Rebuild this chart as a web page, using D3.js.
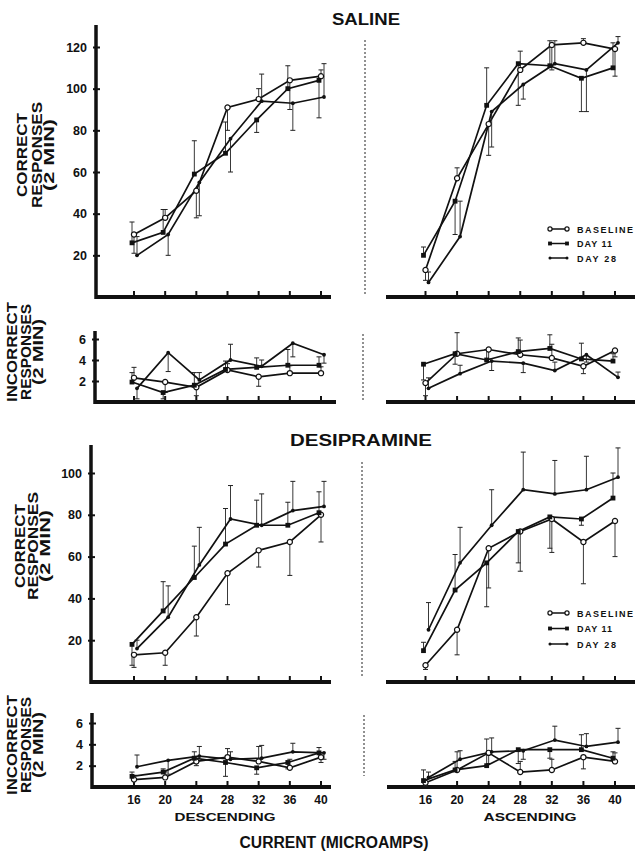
<!DOCTYPE html>
<html>
<head>
<meta charset="utf-8">
<script src="https://cdn.jsdelivr.net/npm/d3@7"></script>
<style>
  body { margin: 0; background: #fff; }
  text { font-family: "Liberation Sans", Arial, sans-serif; font-weight: bold; fill: #111; }
</style>
</head>
<body>
<div id="chart"></div>
<script>
// x values (current, microamps)
const currents = [16, 20, 24, 28, 32, 36, 40];

// SALINE - correct responses, descending
const salCorDescBase = [30, 38, 51, 91, 95, 104, 106];
const salCorDescBaseErr = [-9, 4, -13, -11, 5, -14, 3];
const salCorDescD11 = [26, 31, 59, 69, 85, 100, 104];
const salCorDescD11Err = [10, 11, 16, 15, -6, 11, -18];
const salCorDescD28 = [20, 30, 55, 76, 94, 93, 96];
const salCorDescD28Err = [9, -10, -16, -16, 13, -13, 16];

// SALINE - correct responses, ascending
const salCorAscBase = [13, 57, 83, 109, 121, 122, 119];
const salCorAscBaseErr = [-5, 5, -15, 9, -12, 2, -13];
const salCorAscD11 = [20, 46, 92, 112, 111, 105, 110];
const salCorAscD11Err = [4, -16, 18, -20, 12, -16, 12];
const salCorAscD28 = [7, 29, 89, 102, 112, 109, 122];
const salCorAscD28Err = [5, 17, -17, -7, 11, -20, 3];

// SALINE - incorrect responses
const salIncDescBase = [2.3, 1.9, 1.4, 3.05, 2.4, 2.75, 2.75];
const salIncDescBaseErr = [1.0, -1.0, -0.8, 0.6, -0.9, 0.7, 0.6];
const salIncDescD11 = [1.9, 0.9, 1.6, 3.1, 3.3, 3.5, 3.5];
const salIncDescD11Err = [0.9, -0.6, 1.2, 0.8, 0.9, 1.5, 0.8];
const salIncDescD28 = [1.3, 4.7, 2.1, 4.0, 3.4, 5.6, 4.5];
const salIncDescD28Err = [-1.0, -1.8, 0.7, 1.5, 0.6, -1.3, -0.8];

const salIncAscBase = [1.8, 4.6, 5.0, 4.5, 4.2, 3.4, 4.9];
const salIncAscBaseErr = [-1.2, 2.0, -0.9, 1.4, 1.3, -0.7, -0.6];
const salIncAscD11 = [3.6, 4.6, 4.0, 4.8, 5.1, 4.1, 3.9];
const salIncAscD11Err = [-1.5, -1.0, 1.0, 1.3, 1.3, 1.5, 0.7];
const salIncAscD28 = [1.3, 2.7, 3.9, 3.7, 3.0, 4.5, 2.35];
const salIncAscD28Err = [1.0, 0.8, -0.9, -0.9, 0.8, -0.7, 0.5];

// DESIPRAMINE - correct responses
const desCorDescBase = [13, 14, 31, 52, 63, 67, 80];
const desCorDescBaseErr = [-6, -6, -9, -15, -8, -16, -13];
const desCorDescD11 = [18, 34, 50, 66, 75, 75, 81];
const desCorDescD11Err = [-10, 14, 15, 17, 12, 11, 10];
const desCorDescD28 = [16, 31, 56, 78, 75, 82, 84];
const desCorDescD28Err = [4, 15, 18, 16, 15, 14, 12];

const desCorAscBase = [8, 25, 64, 72, 78, 67, 77];
const desCorAscBaseErr = [-2, -12, -19, -19, -16, -20, -17];
const desCorAscD11 = [15, 44, 57, 72, 79, 78, 88];
const desCorAscD11Err = [4, 17, -21, -15, -15, -3, 12];
const desCorAscD28 = [25, 57, 75, 92, 90, 92, 98];
const desCorAscD28Err = [13, 17, 17, 18, 16, 16, 14];

// DESIPRAMINE - incorrect responses
const desIncDescBase = [0.7, 0.9, 2.4, 2.8, 2.4, 1.8, 2.8];
const desIncDescBaseErr = [0.4, 0.5, -0.4, 0.8, 1.4, 0.8, -0.5];
const desIncDescD11 = [1.0, 1.4, 2.7, 2.3, 1.8, 2.3, 3.2];
const desIncDescD11Err = [0.4, 0.3, 0.6, -1.3, -0.6, -0.6, 0.5];
const desIncDescD28 = [1.9, 2.5, 2.9, 2.6, 2.7, 3.3, 3.2];
const desIncDescD28Err = [1.1, -1.3, 0.9, 0.7, 1.2, 0.8, -0.6];

const desIncAscBase = [0.4, 1.6, 3.2, 1.4, 1.6, 2.8, 2.4];
const desIncAscBaseErr = [-0.3, 1.7, -1.0, 1.0, 1.0, -1.1, 0.8];
const desIncAscD11 = [0.6, 1.6, 2.0, 3.5, 3.5, 3.5, 2.7];
const desIncAscD11Err = [1.0, 0.8, 2.5, -1.3, -0.8, 1.4, 0.6];
const desIncAscD28 = [0.9, 2.6, 3.3, 3.4, 4.4, 3.8, 4.2];
const desIncAscD28Err = [0.5, 0.8, 1.3, -0.8, 1.3, 1.2, 1.3];

const legendLabels = ["BASELINE", "DAY 11", "DAY 28"];
const corTicksSaline = [20, 40, 60, 80, 100, 120];
const corTicksDes = [20, 40, 60, 80, 100];
const incTicks = [2, 4, 6];

// constants
const width = 635, height = 853;
const seriesKinds = ["base", "d11", "d28"];
const seriesDx = {base: 0, d11: -2, d28: 3};
const legendLen = [56, 35, 39];

const svg = d3.select("#chart")
  .append("svg")
  .attr("width", width)
  .attr("height", height);

// x scales shared by the left (descending) and right (ascending) columns
const xLeft = d3.scaleLinear().domain([16, 40]).range([134, 321]);
const xRight = d3.scaleLinear().domain([16, 40]).range([425.5, 615]);

function makeSeries(vals, errs, kind) {
  return currents.map((c, i) => ({c: c, v: vals[i], e: errs[i], kind: kind}));
}

function drawMarker(sel, kind, size) {
  const s = size || 1;
  if (kind === "base") {
    sel.append("circle").attr("r", 2.6 * s).attr("fill", "#fff")
      .attr("stroke", "#111").attr("stroke-width", 1.2);
  } else if (kind === "d11") {
    sel.append("rect").attr("x", -2.4 * s).attr("y", -2.4 * s)
      .attr("width", 4.8 * s).attr("height", 4.8 * s).attr("fill", "#111");
  } else {
    sel.append("circle").attr("r", 1.9 * s).attr("fill", "#111");
  }
}

function drawPanel(p) {
  const g = svg.append("g");
  const y0 = p.y(0);

  // thick x axis
  g.append("line")
    .attr("x1", p.x0).attr("x2", p.x1)
    .attr("y1", y0).attr("y2", y0)
    .attr("stroke", "#111").attr("stroke-width", 4);

  g.selectAll(".xtick")
    .data(currents)
    .join("line")
    .attr("x1", d => p.x(d)).attr("x2", d => p.x(d))
    .attr("y1", y0).attr("y2", y0 - 6)
    .attr("stroke", "#111").attr("stroke-width", 2);

  // y axis only on the left column
  if (p.yTicks) {
    g.append("line")
      .attr("x1", p.x0).attr("x2", p.x0)
      .attr("y1", p.yTop).attr("y2", y0 + 2)
      .attr("stroke", "#111").attr("stroke-width", 3.5);

    const ax = g.append("g")
      .attr("transform", `translate(${p.x0},0)`)
      .call(d3.axisLeft(p.y).tickValues(p.yTicks).tickFormat(d3.format("d"))
        .tickSize(4).tickPadding(5));
    ax.select(".domain").remove();
    ax.selectAll(".tick line").attr("x2", 4).attr("x1", -3)
      .attr("stroke", "#111").attr("stroke-width", 2);
    ax.selectAll(".tick text")
      .attr("font-family", "Liberation Sans, Arial, sans-serif")
      .attr("font-weight", "bold")
      .attr("font-size", 12.5)
      .attr("fill", "#111");
  }

  // dashed divider
  if (p.divider) {
    g.append("line")
      .attr("x1", p.divider[0]).attr("x2", p.divider[0])
      .attr("y1", p.divider[1]).attr("y2", p.divider[2])
      .attr("stroke", "#222").attr("stroke-width", 1)
      .attr("stroke-dasharray", "2,2");
  }

  const line = d3.line()
    .x(d => p.x(d.c) + seriesDx[d.kind])
    .y(d => p.y(d.v));

  p.series.forEach(s => {
    // error bars: one-sided with a cap
    const eb = g.append("g");
    eb.selectAll("line.bar")
      .data(s)
      .join("line")
      .attr("x1", d => p.x(d.c) + seriesDx[d.kind])
      .attr("x2", d => p.x(d.c) + seriesDx[d.kind])
      .attr("y1", d => p.y(d.v))
      .attr("y2", d => p.y(d.v + d.e))
      .attr("stroke", "#222").attr("stroke-width", 0.9);
    eb.selectAll("line.cap")
      .data(s)
      .join("line")
      .attr("x1", d => p.x(d.c) + seriesDx[d.kind] - 2.5)
      .attr("x2", d => p.x(d.c) + seriesDx[d.kind] + 2.5)
      .attr("y1", d => p.y(d.v + d.e))
      .attr("y2", d => p.y(d.v + d.e))
      .attr("stroke", "#222").attr("stroke-width", 1);

    g.append("path")
      .datum(s)
      .attr("d", line)
      .attr("fill", "none")
      .attr("stroke", "#111")
      .attr("stroke-width", 1.7);
  });

  p.series.forEach(s => {
    g.selectAll(null)
      .data(s)
      .join("g")
      .attr("transform", d => `translate(${p.x(d.c) + seriesDx[d.kind]},${p.y(d.v)})`)
      .each(function(d) { drawMarker(d3.select(this), d.kind); });
  });
}

function yTitle(lines, cy) {
  lines.forEach(l => {
    svg.append("text")
      .attr("transform", `translate(${l.x},${cy}) rotate(-90)`)
      .attr("text-anchor", "middle")
      .attr("font-size", 14)
      .attr("textLength", l.len)
      .attr("lengthAdjust", "spacingAndGlyphs")
      .text(l.t);
  });
}

function legend(x, y0, dy) {
  legendLabels.forEach((lab, i) => {
    const gy = y0 + i * dy;
    const kind = seriesKinds[i];
    svg.append("line")
      .attr("x1", x).attr("x2", x + 17)
      .attr("y1", gy).attr("y2", gy)
      .attr("stroke", "#111").attr("stroke-width", 1.5);
    [x, x + 17].forEach(mx => {
      const m = svg.append("g").attr("transform", `translate(${mx},${gy})`);
      drawMarker(m, kind, 0.8);
    });
    svg.append("text")
      .attr("x", x + 27).attr("y", gy + 3.5)
      .attr("font-size", 9)
      .attr("textLength", legendLen[i])
      .attr("lengthAdjust", "spacing")
      .text(lab);
  });
}

// y scales
const ySalCor = d3.scaleLinear().domain([0, 120]).range([297, 47]);
const ySalInc = d3.scaleLinear().domain([0, 6]).range([402, 339]);
const yDesCor = d3.scaleLinear().domain([0, 100]).range([682, 473]);
const yDesInc = d3.scaleLinear().domain([0, 6]).range([787, 723]);

const panels = [
  {x: xLeft, y: ySalCor, x0: 96, x1: 331, yTop: 25, yTicks: corTicksSaline,
   series: [makeSeries(salCorDescBase, salCorDescBaseErr, "base"),
            makeSeries(salCorDescD11, salCorDescD11Err, "d11"),
            makeSeries(salCorDescD28, salCorDescD28Err, "d28")]},
  {x: xRight, y: ySalCor, x0: 386, x1: 635, divider: [365, 40, 295],
   series: [makeSeries(salCorAscBase, salCorAscBaseErr, "base"),
            makeSeries(salCorAscD11, salCorAscD11Err, "d11"),
            makeSeries(salCorAscD28, salCorAscD28Err, "d28")]},
  {x: xLeft, y: ySalInc, x0: 95, x1: 336, yTop: 331, yTicks: incTicks,
   series: [makeSeries(salIncDescBase, salIncDescBaseErr, "base"),
            makeSeries(salIncDescD11, salIncDescD11Err, "d11"),
            makeSeries(salIncDescD28, salIncDescD28Err, "d28")]},
  {x: xRight, y: ySalInc, x0: 386, x1: 635, divider: [363, 334, 400],
   series: [makeSeries(salIncAscBase, salIncAscBaseErr, "base"),
            makeSeries(salIncAscD11, salIncAscD11Err, "d11"),
            makeSeries(salIncAscD28, salIncAscD28Err, "d28")]},
  {x: xLeft, y: yDesCor, x0: 91, x1: 331, yTop: 445, yTicks: corTicksDes,
   series: [makeSeries(desCorDescBase, desCorDescBaseErr, "base"),
            makeSeries(desCorDescD11, desCorDescD11Err, "d11"),
            makeSeries(desCorDescD28, desCorDescD28Err, "d28")]},
  {x: xRight, y: yDesCor, x0: 386, x1: 635, divider: [362, 462, 678],
   series: [makeSeries(desCorAscBase, desCorAscBaseErr, "base"),
            makeSeries(desCorAscD11, desCorAscD11Err, "d11"),
            makeSeries(desCorAscD28, desCorAscD28Err, "d28")]},
  {x: xLeft, y: yDesInc, x0: 92, x1: 331, yTop: 713, yTicks: incTicks,
   series: [makeSeries(desIncDescBase, desIncDescBaseErr, "base"),
            makeSeries(desIncDescD11, desIncDescD11Err, "d11"),
            makeSeries(desIncDescD28, desIncDescD28Err, "d28")]},
  {x: xRight, y: yDesInc, x0: 387, x1: 635, divider: [364, 715, 776],
   series: [makeSeries(desIncAscBase, desIncAscBaseErr, "base"),
            makeSeries(desIncAscD11, desIncAscD11Err, "d11"),
            makeSeries(desIncAscD28, desIncAscD28Err, "d28")]}
];

panels.forEach(drawPanel);

// titles
svg.append("text").attr("x", 366).attr("y", 25).attr("text-anchor", "middle")
  .attr("font-size", 16).attr("textLength", 68).attr("lengthAdjust", "spacingAndGlyphs")
  .text("SALINE");
svg.append("text").attr("x", 361).attr("y", 446).attr("text-anchor", "middle")
  .attr("font-size", 16).attr("textLength", 142).attr("lengthAdjust", "spacingAndGlyphs")
  .text("DESIPRAMINE");

// y axis titles
yTitle([{t: "CORRECT", x: 27, len: 84}, {t: "RESPONSES", x: 42, len: 106}, {t: "(2 MIN)", x: 54, len: 72}], 155);
yTitle([{t: "INCORRECT", x: 17, len: 100}, {t: "RESPONSES", x: 31, len: 96}, {t: "(2 MIN)", x: 43, len: 66}], 352);
yTitle([{t: "CORRECT", x: 25, len: 84}, {t: "RESPONSES", x: 38, len: 108}, {t: "(2 MIN)", x: 50, len: 72}], 546);
yTitle([{t: "INCORRECT", x: 17, len: 100}, {t: "RESPONSES", x: 31, len: 96}, {t: "(2 MIN)", x: 43, len: 66}], 745);

// legends
legend(550, 229, 14.5);
legend(550, 613, 15.5);

// x tick labels under the bottom panels
[xLeft, xRight].forEach(xs => {
  svg.selectAll(null)
    .data(currents)
    .join("text")
    .attr("x", d => xs(d))
    .attr("y", 804)
    .attr("text-anchor", "middle")
    .attr("font-size", 12)
    .text(d => d);
});

svg.append("text").attr("x", 225).attr("y", 821).attr("text-anchor", "middle")
  .attr("font-size", 11).attr("textLength", 101).attr("lengthAdjust", "spacingAndGlyphs")
  .text("DESCENDING");
svg.append("text").attr("x", 530).attr("y", 821).attr("text-anchor", "middle")
  .attr("font-size", 11).attr("textLength", 93).attr("lengthAdjust", "spacingAndGlyphs")
  .text("ASCENDING");
svg.append("text").attr("x", 334).attr("y", 848).attr("text-anchor", "middle")
  .attr("font-size", 16).attr("textLength", 189).attr("lengthAdjust", "spacingAndGlyphs")
  .text("CURRENT (MICROAMPS)");
</script>
</body>
</html>
